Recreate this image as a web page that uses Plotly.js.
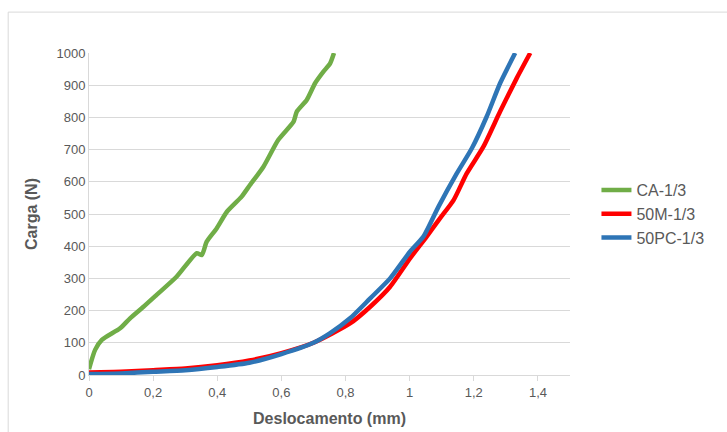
<!DOCTYPE html>
<html><head><meta charset="utf-8">
<script src="https://cdn.plot.ly/plotly-3.0.1.min.js"></script>
<style>html,body{margin:0;padding:0;background:#fff}#c{width:727px;height:432px}</style>
</head><body><div id="c"></div>
<script>
const caX = [0,0.019,0.04,0.097,0.128,0.17,0.21,0.273,0.336,0.352,0.367,0.398,0.43,0.476,0.502,0.544,0.59,0.638,0.648,0.679,0.705,0.731,0.752,0.764];
const caY = [18,78,109,145,176,212,248,305,378,373,414,455,507,554,590,647,730,787,818,854,906,942,968,1000];
const mX = [0,0.1,0.2,0.3,0.4,0.5,0.6,0.7,0.814,0.877,0.939,1.001,1.053,1.095,1.137,1.178,1.23,1.282,1.334,1.376];
const mY = [8,10,15,20,30,45,68,100,160,212,274,362,430,487,543,626,709,818,922,1000];
const pcX = [0,0.1,0.2,0.3,0.4,0.5,0.6,0.7,0.752,0.814,0.877,0.939,1.001,1.043,1.09,1.147,1.194,1.24,1.282,1.329];
const pcY = [3,5,10,15,25,38,65,100,130,176,238,300,383,430,523,626,704,802,906,1000];
const names = ['CA-1/3','50M-1/3','50PC-1/3'];
const colors = ['#70AD47','#FF0000','#2E75B6'];
const xTicks = [0,0.2,0.4,0.6,0.8,1,1.2,1.4];
const xTickText = ['0','0,2','0,4','0,6','0,8','1','1,2','1,4'];
const yTicks = [0,100,200,300,400,500,600,700,800,900,1000];

const font = 'Liberation Sans, Arial, sans-serif';
const traces = [[caX,caY],[mX,mY],[pcX,pcY]].map((d,i)=>({
  x:d[0], y:d[1], name:names[i], type:'scatter', mode:'lines',
  line:{color:colors[i], width:4.5, shape:'spline', smoothing:0.6}
}));
const layout = {
  width:727, height:432,
  margin:{l:89, r:157, t:53, b:57},
  paper_bgcolor:'#fff', plot_bgcolor:'#fff',
  font:{family:font, color:'#595959', size:13},
  showlegend:true,
  legend:{x:1.055, y:0.5, xanchor:'left', yanchor:'middle', font:{size:16, color:'#595959'}, tracegroupgap:0, itemwidth:30},
  xaxis:{range:[0,1.5], tickvals:xTicks, ticktext:xTickText, showgrid:false, zeroline:false,
    showline:true, linecolor:'#d9d9d9', linewidth:1, ticks:'outside', ticklen:5, tickcolor:'#d9d9d9',
    tickfont:{size:13, color:'#595959'},
    title:{text:'<b>Deslocamento (mm)</b>', font:{size:16, color:'#595959'}, standoff:14}},
  yaxis:{range:[0,1000], tickvals:yTicks, showgrid:true, gridcolor:'#d9d9d9', gridwidth:1, zeroline:false,
    showline:true, linecolor:'#d9d9d9', linewidth:1, ticks:'', 
    tickfont:{size:13, color:'#595959'},
    title:{text:'<b>Carga (N)</b>', font:{size:16, color:'#595959'}, standoff:14}},
  shapes:[{type:'rect', xref:'paper', yref:'paper', x0:-0.168, x1:1.353, y0:-0.202, y1:1.127,
    line:{color:'#d9d9d9', width:1}, fillcolor:'rgba(0,0,0,0)', layer:'below'}]
};
Plotly.newPlot('c', traces, layout, {displayModeBar:false, staticPlot:true});
</script></body></html>
